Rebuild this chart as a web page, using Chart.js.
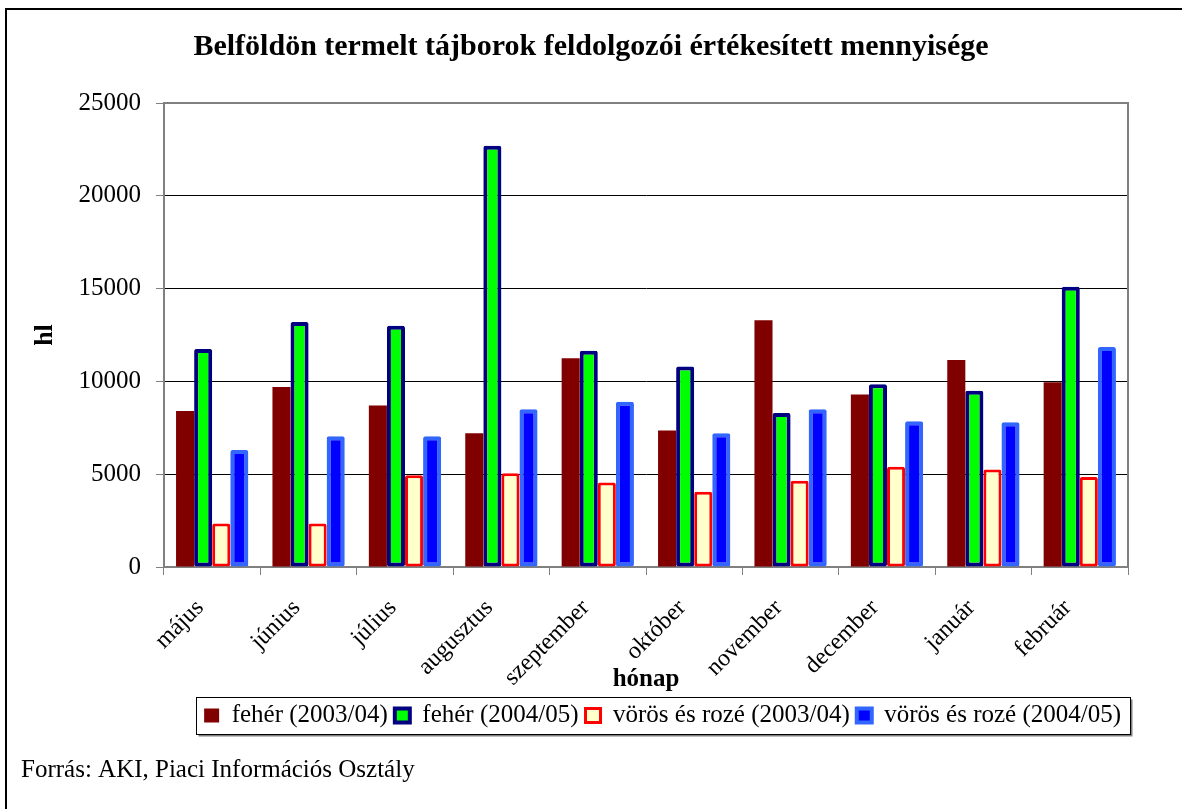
<!DOCTYPE html>
<html>
<head>
<meta charset="utf-8">
<script src="https://cdn.jsdelivr.net/npm/chart.js@4"></script>
<style>
  body { margin: 0; background: #fff; }
</style>
</head>
<body>
<canvas id="tajborChart" width="1182" height="809"></canvas>
<script>
// adatok (hl)
var months = ["május", "június", "július", "augusztus", "szeptember", "október", "november", "december", "január", "február"];
var feher0304 = [8400, 9700, 8700, 7200, 11250, 7350, 13300, 9300, 11150, 9950];
var feher0405 = [11750, 13200, 13000, 22700, 11650, 10800, 8300, 9850, 9500, 15100];
var voros0304 = [2350, 2350, 4950, 5050, 4550, 4050, 4650, 5400, 5250, 4850];
var voros0405 = [6300, 7050, 7050, 8500, 8900, 7200, 8500, 7850, 7800, 11850];
var seriesNames = ["fehér (2003/04)", "fehér (2004/05)", "vörös és rozé (2003/04)", "vörös és rozé (2004/05)"];
var yTicks = [0, 5000, 10000, 15000, 20000, 25000];

var serif = "'Liberation Serif', 'Times New Roman', serif";
Chart.defaults.font.family = serif;
Chart.defaults.color = "#000";

// keret, jelmagyarázat doboz, forrás
var frameAndNotes = {
  id: "frameAndNotes",
  afterDraw: function(chart) {
    var ctx = chart.ctx;
    var area = chart.chartArea;
    ctx.save();

    ctx.strokeStyle = "#808080";
    ctx.lineWidth = 2;
    ctx.beginPath();
    ctx.moveTo(area.left, area.top);
    ctx.lineTo(area.right, area.top);
    ctx.stroke();

    ctx.strokeStyle = "#000";
    ctx.lineWidth = 2;
    ctx.beginPath();
    ctx.moveTo(6, 809);
    ctx.lineTo(6, 9);
    ctx.lineTo(1182, 9);
    ctx.stroke();

    var boxes = chart.legend.legendHitBoxes;
    if (boxes && boxes.length) {
      var first = boxes[0], last = boxes[boxes.length - 1];
      var l = Math.round(first.left - 8) + 0.5;
      var r = Math.round(last.left + last.width + 9) + 0.5;
      var t = Math.round(first.top - 6) + 0.5;
      var b = Math.round(first.top + first.height + 6) + 0.5;
      ctx.strokeStyle = "#808080";
      ctx.lineWidth = 2;
      ctx.beginPath();
      ctx.moveTo(l + 2, b + 1);
      ctx.lineTo(r + 1, b + 1);
      ctx.lineTo(r + 1, t + 2);
      ctx.stroke();
      ctx.strokeStyle = "#000";
      ctx.lineWidth = 1;
      ctx.strokeRect(l, t, r - l, b - t);
    }

    ctx.fillStyle = "#000";
    ctx.font = "25px " + serif;
    ctx.textBaseline = "alphabetic";
    ctx.textAlign = "left";
    ctx.fillText("Forrás: AKI, Piaci Információs Osztály", 21, 777);
    ctx.restore();
  }
};

new Chart("tajborChart", {
  type: "bar",
  data: {
    labels: months,
    datasets: [{
      label: seriesNames[0],
      data: feher0304,
      backgroundColor: "#800000",
      borderWidth: 0
    }, {
      label: seriesNames[1],
      data: feher0405,
      backgroundColor: "#00ff00",
      borderColor: "#000080",
      borderWidth: 4,
      borderRadius: 2,
      borderSkipped: false
    }, {
      label: seriesNames[2],
      data: voros0304,
      backgroundColor: "#ffffcc",
      borderColor: "#ff0000",
      borderWidth: 3,
      borderRadius: 2,
      borderSkipped: false
    }, {
      label: seriesNames[3],
      data: voros0405,
      backgroundColor: "#0000ff",
      borderColor: "#3366ff",
      borderWidth: 4,
      borderRadius: 2,
      borderSkipped: false
    }]
  },
  options: {
    responsive: false,
    animation: false,
    categoryPercentage: 0.75,
    barPercentage: 1.0,
    layout: { padding: { left: 0, right: 0, top: 0, bottom: 71 } },
    plugins: {
      title: {
        display: true,
        text: "Belföldön termelt tájborok feldolgozói értékesített mennyisége",
        font: { size: 30, weight: "bold" },
        padding: { top: 29, bottom: 38 }
      },
      legend: {
        position: "bottom",
        align: "end",
        fullSize: false,
        labels: {
          font: { size: 25 },
          boxWidth: 15,
          boxHeight: 14,
          padding: 7,
          color: "#000"
        }
      },
      tooltip: { enabled: false }
    },
    scales: {
      x: {
        afterFit: function(scale) { scale.height = 129; },
        grid: {
          drawOnChartArea: false,
          drawTicks: true,
          tickLength: 8,
          tickColor: "#808080"
        },
        border: { color: "#808080", width: 2 },
        ticks: {
          minRotation: 45,
          maxRotation: 45,
          padding: 19,
          labelOffset: -12,
          font: { size: 24 },
          color: "#000"
        },
        title: {
          display: true,
          text: "hónap",
          font: { size: 25, weight: "bold" },
          padding: { top: 0, bottom: 1 }
        }
      },
      y: {
        min: 0,
        max: 25000,
        afterFit: function(scale) { scale.width = 164; },
        afterBuildTicks: function(scale) {
          scale.ticks = yTicks.map(function(v) { return { value: v }; });
        },
        grid: {
          color: function(c) {
            return c.tick && c.tick.value === 25000 ? "rgba(0,0,0,0)" : "#000";
          },
          lineWidth: 1,
          tickLength: 8,
          tickColor: "#808080"
        },
        border: { color: "#808080", width: 2 },
        ticks: {
          padding: 15,
          font: { size: 25 },
          color: "#000",
          callback: function(v) { return v; }
        },
        title: {
          display: true,
          text: "hl",
          font: { size: 26, weight: "bold" },
          padding: { top: 30, bottom: 0 }
        }
      },
      // jobb oldali üres tengely: a rajzterület jobb széle
      yRight: {
        position: "right",
        min: 0,
        max: 1,
        afterFit: function(scale) { scale.width = 54; },
        grid: { display: false },
        ticks: { display: false },
        border: { display: true, color: "#808080", width: 2 }
      }
    }
  },
  plugins: [frameAndNotes]
});
</script>
</body>
</html>
